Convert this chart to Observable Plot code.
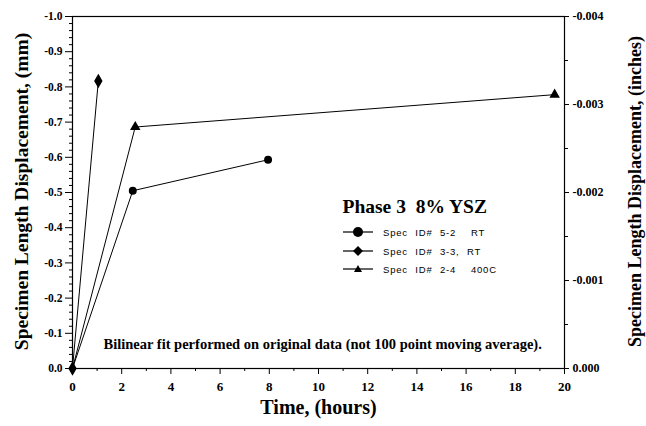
<!DOCTYPE html>
<html>
<head>
<meta charset="utf-8">
<script src="https://cdn.jsdelivr.net/npm/d3@7"></script>
<script src="https://cdn.jsdelivr.net/npm/@observablehq/plot@0.6"></script>
<style>
  body { margin: 0; background: #fff; }
  #wrap { position: relative; width: 646px; height: 426px; }
  #legend { position: absolute; left: 0; top: 0; font-family: "Liberation Sans", Arial, sans-serif; font-size: 9.5px; letter-spacing: 0.8px; word-spacing: 4px; white-space: pre; color: #000; }
  .row { position: absolute; left: 343px; height: 14px; display: flex; align-items: center; }
  .row svg { display: block; }
  .row span { margin-left: 10px; }
</style>
</head>
<body>
<div id="wrap"></div>
<script>
// Data
const seriesNames = ["Spec ID# 5-2  RT", "Spec ID# 3-3, RT", "Spec ID# 2-4  400C"];
const seriesSymbols = ["circle", "diamond", "triangle"];
const time52 = [0, 2.45, 7.95];
const disp52 = [0, -0.505, -0.593];
const time33 = [0, 1.05];
const disp33 = [0, -0.817];
const time24 = [0, 2.55, 19.6];
const disp24 = [0, -0.686, -0.778];
const xTicks = [0, 2, 4, 6, 8, 10, 12, 14, 16, 18, 20];
const yTicksMm = [0, -0.1, -0.2, -0.3, -0.4, -0.5, -0.6, -0.7, -0.8, -0.9, -1.0];
const yTicksInch = [0, -0.001, -0.002, -0.003, -0.004];
const inchToAxis = 250; // right axis is drawn so that -0.004 aligns with -1.0

const rows = [];
[[time52, disp52], [time33, disp33], [time24, disp24]].forEach(([t, d], i) => {
  t.forEach((v, j) => rows.push({series: seriesNames[i], symbol: seriesSymbols[i], t: v, d: d[j]}));
});
const markerRows = rows.filter(r => r.t > 0 || r.symbol === "diamond");

const xMinor = d3.range(1, 20, 2);
const yMinor = d3.range(0, 51).map(i => -i * 0.02).filter(v => !yTicksMm.some(m => Math.abs(m - v) < 1e-9));
const inchMinor = [-0.0005, -0.0015, -0.0025, -0.0035].map(v => v * inchToAxis);

const serif = "Liberation Serif, Times New Roman, serif";

const chart = Plot.plot({
  width: 646,
  height: 426,
  marginLeft: 72,
  marginRight: 82,
  marginTop: 16,
  marginBottom: 58,
  style: {fontFamily: serif, color: "#000", background: "#fff"},
  x: {domain: [0, 20]},
  y: {domain: [0, -1]},
  symbol: {domain: seriesSymbols, range: seriesSymbols},
  marks: [
    Plot.frame({stroke: "#000", strokeWidth: 1.2}),
    Plot.axisX({ticks: xTicks, tickSize: 6, tickPadding: 7, fontSize: 13, fontWeight: "bold", tickFormat: d => String(d), label: null}),
    Plot.axisX({ticks: xMinor, tickSize: 3, tickFormat: () => "", label: null}),
    Plot.axisY({ticks: yTicksMm, tickSize: 7, tickPadding: 3, fontSize: 11.5, fontWeight: "bold", tickFormat: d => d.toFixed(1), label: null}),
    Plot.axisY({ticks: yMinor, tickSize: 3, tickFormat: () => "", label: null}),
    Plot.axisY({anchor: "right", ticks: yTicksInch.map(v => v * inchToAxis), tickSize: 4, tickPadding: 4, fontSize: 12, fontWeight: "bold", tickFormat: d => (d / inchToAxis).toFixed(3), label: null}),
    Plot.axisY({anchor: "right", ticks: inchMinor, tickSize: 3, tickFormat: () => "", label: null}),
    Plot.line(rows, {x: "t", y: "d", z: "series", stroke: "#000", strokeWidth: 1}),
    Plot.dot(markerRows, {x: "t", y: "d", symbol: "symbol", fill: "#000", stroke: "#000",
      r: d => d.symbol === "circle" ? 5.5 : d.symbol === "diamond" ? 6.5 : 4.5}),
    Plot.text(["Phase 3  8% YSZ"], {frameAnchor: "top-left", dx: 270, dy: 183, textAnchor: "start", fontSize: 19.5, fontWeight: "bold"}),
    Plot.text(["Bilinear fit performed on original data (not 100 point moving average)."], {frameAnchor: "bottom-left", dx: 31, dy: -20, textAnchor: "start", fontSize: 14.5, fontWeight: "bold"}),
    Plot.text(["Time, (hours)"], {frameAnchor: "bottom", dx: 0, dy: 45, fontSize: 20, fontWeight: "bold"}),
    Plot.text(["Specimen Length Displacement, (mm)"], {frameAnchor: "left", dx: -51, dy: -1, rotate: -90, textAnchor: "middle", fontSize: 19.5, fontWeight: "bold"}),
    Plot.text(["Specimen Length Displacement, (inches)"], {frameAnchor: "right", dx: 71, dy: -1, rotate: -90, textAnchor: "middle", fontSize: 18, fontWeight: "bold"})
  ]
});

const wrap = document.getElementById("wrap");
wrap.appendChild(chart);

// Legend overlay
const legend = document.createElement("div");
legend.id = "legend";
const legendTops = [225, 244, 262];
const sym = {
  circle: '<circle cx="15" cy="7" r="5" fill="#000"/>',
  diamond: '<path d="M15 2 L20 7 L15 12 L10 7 Z" fill="#000"/>',
  triangle: '<path d="M15 3 L19 10 L11 10 Z" fill="#000"/>'
};
seriesNames.forEach((name, i) => {
  const row = document.createElement("div");
  row.className = "row";
  row.style.top = legendTops[i] + "px";
  row.innerHTML = `<svg width="30" height="14"><line x1="0" x2="30" y1="7" y2="7" stroke="#000" stroke-width="1.2"/>${sym[seriesSymbols[i]]}</svg><span>${name}</span>`;
  legend.appendChild(row);
});
wrap.appendChild(legend);
</script>
</body>
</html>
